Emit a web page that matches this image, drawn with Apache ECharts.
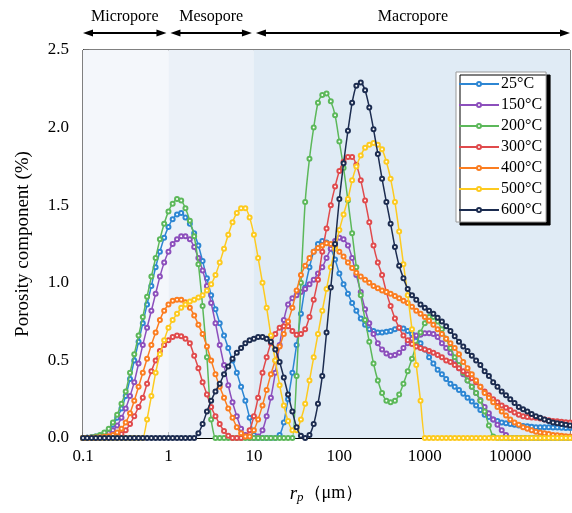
<!DOCTYPE html>
<html>
<head>
<meta charset="utf-8">
<script src="https://cdn.jsdelivr.net/npm/echarts@6/dist/echarts.min.js"></script>
<style>html,body{margin:0;padding:0;background:#fff;}#c{width:572px;height:513px;}</style>
</head>
<body>
<div id="c"></div>
<script>
// ---- data ----
const rp = [0.1, 0.112, 0.126, 0.141, 0.158, 0.178, 0.2, 0.224, 0.251, 0.282,
  0.316, 0.355, 0.398, 0.447, 0.501, 0.562, 0.631, 0.708, 0.794, 0.891,
  1, 1.12, 1.26, 1.41, 1.58, 1.78, 2, 2.24, 2.51, 2.82,
  3.16, 3.55, 3.98, 4.47, 5.01, 5.62, 6.31, 7.08, 7.94, 8.91,
  10, 11.2, 12.6, 14.1, 15.8, 17.8, 20, 22.4, 25.1, 28.2,
  31.6, 35.5, 39.8, 44.7, 50.1, 56.2, 63.1, 70.8, 79.4, 89.1,
  100, 112, 126, 141, 158, 178, 200, 224, 251, 282,
  316, 355, 398, 447, 501, 562, 631, 708, 794, 891,
  1000, 1122, 1259, 1413, 1585, 1778, 1995, 2239, 2512, 2818,
  3162, 3548, 3981, 4467, 5012, 5623, 6310, 7079, 7943, 8913,
  10000, 11220, 12589, 14125, 15849, 17783, 19953, 22387, 25119, 28184,
  31623, 35481, 39811, 44668, 50000];

const seriesNames = ['25°C', '150°C', '200°C', '300°C', '400°C', '500°C', '600°C'];

const v25 = [0, 0.002, 0.005, 0.01, 0.015, 0.03, 0.05, 0.085, 0.13, 0.19,
  0.27, 0.38, 0.5, 0.62, 0.74, 0.86, 0.98, 1.1, 1.2, 1.29,
  1.36, 1.41, 1.44, 1.45, 1.42, 1.38, 1.32, 1.24, 1.14, 1.03,
  0.92, 0.83, 0.74, 0.66, 0.58, 0.5, 0.42, 0.33, 0.24, 0.13,
  0.02, 0, 0, 0, 0, 0, 0.02, 0.1, 0.25, 0.42,
  0.6, 0.8, 0.97, 1.1, 1.2, 1.25, 1.27, 1.26, 1.22, 1.15,
  1.06, 0.99, 0.93, 0.87, 0.82, 0.77, 0.73, 0.7, 0.69, 0.68,
  0.68, 0.685, 0.69, 0.7, 0.71, 0.705, 0.69, 0.67, 0.65, 0.61,
  0.57, 0.52, 0.48, 0.44, 0.41, 0.38, 0.35, 0.33, 0.31, 0.285,
  0.26, 0.235, 0.21, 0.18, 0.15, 0.135, 0.12, 0.11, 0.1, 0.095,
  0.09, 0.085, 0.08, 0.078, 0.075, 0.072, 0.07, 0.07, 0.07, 0.069,
  0.068, 0.067, 0.066, 0.065, 0.065];

const v150 = [0, 0.001, 0.003, 0.006, 0.01, 0.02, 0.03, 0.05, 0.08, 0.13,
  0.19, 0.27, 0.36, 0.48, 0.6, 0.71, 0.82, 0.93, 1.04, 1.13,
  1.2, 1.25, 1.28, 1.3, 1.3, 1.28, 1.23, 1.16, 1.08, 0.98,
  0.87, 0.74, 0.6, 0.47, 0.34, 0.23, 0.14, 0.06, 0.02, 0,
  0, 0.01, 0.05, 0.14, 0.26, 0.42, 0.6, 0.76, 0.86, 0.9,
  0.92, 0.94, 0.96, 0.99, 1.02, 1.06, 1.1, 1.16, 1.22, 1.27,
  1.29, 1.28, 1.24, 1.16, 1.05, 0.94, 0.83, 0.74, 0.67, 0.61,
  0.57, 0.545, 0.53, 0.535, 0.55, 0.58, 0.61, 0.64, 0.66, 0.665,
  0.675, 0.675, 0.67, 0.65, 0.61, 0.58, 0.55, 0.5, 0.45, 0.41,
  0.37, 0.33, 0.29, 0.245, 0.2, 0.16, 0.12, 0.085, 0.05, 0.02,
  0, 0, 0, 0, 0, 0, 0, 0, 0, 0,
  0, 0, 0, 0, 0];

const v200 = [0, 0.002, 0.005, 0.01, 0.02, 0.035, 0.06, 0.1, 0.15, 0.22,
  0.3, 0.42, 0.54, 0.66, 0.78, 0.91, 1.04, 1.16, 1.28, 1.38,
  1.46, 1.51, 1.54, 1.53, 1.48, 1.4, 1.3, 1.12, 0.85, 0.52,
  0.12, 0, 0, 0, 0, 0, 0, 0, 0, 0,
  0, 0, 0, 0, 0, 0, 0, 0, 0, 0,
  0.4, 1.0, 1.52, 1.8, 2.0, 2.16, 2.21, 2.22, 2.17, 2.08,
  1.91, 1.74, 1.53, 1.32, 1.1, 0.92, 0.76, 0.62, 0.48, 0.37,
  0.29, 0.24, 0.23, 0.24, 0.28, 0.35, 0.43, 0.51, 0.6, 0.68,
  0.74, 0.78, 0.78, 0.75, 0.7, 0.64, 0.58, 0.52, 0.47, 0.42,
  0.37, 0.33, 0.29, 0.24, 0.17, 0.08, 0.01, 0, 0, 0,
  0, 0, 0, 0, 0, 0, 0, 0, 0, 0,
  0, 0, 0, 0, 0];

const v300 = [0, 0, 0, 0, 0.001, 0.002, 0.003, 0.006, 0.01, 0.025,
  0.05, 0.09, 0.14, 0.2, 0.26, 0.35, 0.43, 0.5, 0.56, 0.6,
  0.63, 0.65, 0.66, 0.655, 0.64, 0.61, 0.53, 0.45, 0.36, 0.28,
  0.2, 0.14, 0.09, 0.045, 0.015, 0, 0, 0, 0.01, 0.05,
  0.14, 0.26, 0.42, 0.52, 0.61, 0.67, 0.71, 0.72, 0.72, 0.69,
  0.665, 0.67, 0.7, 0.78, 0.89, 1.02, 1.2, 1.35, 1.5, 1.62,
  1.72, 1.78, 1.81, 1.81, 1.76, 1.66, 1.53, 1.39, 1.24, 1.13,
  1.05, 0.94, 0.85, 0.77, 0.71, 0.66, 0.63, 0.605, 0.59, 0.58,
  0.57, 0.56, 0.55, 0.535, 0.52, 0.5, 0.49, 0.47, 0.45, 0.43,
  0.41, 0.385, 0.36, 0.33, 0.3, 0.275, 0.25, 0.23, 0.21, 0.195,
  0.18, 0.165, 0.15, 0.14, 0.135, 0.132, 0.13, 0.125, 0.12, 0.115,
  0.11, 0.108, 0.105, 0.102, 0.1];

const v400 = [0, 0, 0.002, 0.003, 0.005, 0.008, 0.012, 0.02, 0.035, 0.06,
  0.1, 0.16, 0.24, 0.33, 0.42, 0.51, 0.6, 0.68, 0.76, 0.82,
  0.86, 0.885, 0.89, 0.89, 0.875, 0.84, 0.79, 0.73, 0.67, 0.59,
  0.5, 0.41, 0.33, 0.26, 0.19, 0.13, 0.07, 0.03, 0.01, 0.01,
  0.05, 0.12, 0.21, 0.31, 0.41, 0.5, 0.59, 0.67, 0.75, 0.84,
  0.95, 1.05, 1.11, 1.16, 1.2, 1.225, 1.24, 1.255, 1.25, 1.23,
  1.2, 1.17, 1.13, 1.095, 1.065, 1.04, 1.02, 1.0, 0.98, 0.965,
  0.95, 0.94, 0.93, 0.915, 0.9, 0.885, 0.87, 0.845, 0.82, 0.8,
  0.78, 0.755, 0.73, 0.7, 0.67, 0.64, 0.61, 0.58, 0.54, 0.49,
  0.45, 0.41, 0.37, 0.33, 0.29, 0.26, 0.23, 0.2, 0.17, 0.145,
  0.12, 0.1, 0.085, 0.07, 0.06, 0.05, 0.04, 0.035, 0.03, 0.025,
  0.02, 0.017, 0.015, 0.012, 0.01];

const v500 = [0, 0, 0, 0, 0, 0, 0, 0, 0, 0,
  0, 0, 0, 0, 0, 0.12, 0.27, 0.42, 0.54, 0.63,
  0.71, 0.76, 0.8, 0.84, 0.86, 0.88, 0.89, 0.905, 0.92, 0.95,
  0.99, 1.05, 1.13, 1.22, 1.31, 1.39, 1.45, 1.48, 1.48, 1.42,
  1.31, 1.16, 1.0, 0.84, 0.66, 0.5, 0.34, 0.21, 0.11, 0.05,
  0.05, 0.12, 0.22, 0.37, 0.52, 0.67, 0.82, 0.96, 1.1, 1.22,
  1.34, 1.44, 1.54, 1.66, 1.75, 1.82, 1.87, 1.89, 1.9, 1.89,
  1.86, 1.78, 1.67, 1.52, 1.33, 1.12, 0.92, 0.7, 0.47, 0.24,
  0, 0, 0, 0, 0, 0, 0, 0, 0, 0,
  0, 0, 0, 0, 0, 0, 0, 0, 0, 0,
  0, 0, 0, 0, 0, 0, 0, 0, 0, 0,
  0, 0, 0, 0, 0];

const v600 = [0, 0, 0, 0, 0, 0, 0, 0, 0, 0,
  0, 0, 0, 0, 0, 0, 0, 0, 0, 0,
  0, 0, 0, 0, 0, 0, 0, 0.03, 0.09, 0.17,
  0.24, 0.3, 0.35, 0.41, 0.46, 0.51, 0.55, 0.58, 0.61, 0.63,
  0.64, 0.65, 0.65, 0.64, 0.62, 0.57, 0.49, 0.39, 0.28, 0.17,
  0.07, 0.015, 0, 0.02, 0.09, 0.22, 0.4, 0.68, 0.97, 1.25,
  1.54, 1.77, 1.98, 2.16, 2.27, 2.29, 2.24, 2.13, 1.99, 1.83,
  1.67, 1.52, 1.38, 1.23, 1.11, 1.03, 0.96, 0.92, 0.89, 0.86,
  0.84, 0.82, 0.8, 0.775, 0.75, 0.72, 0.69, 0.655, 0.62, 0.59,
  0.56, 0.53, 0.5, 0.47, 0.43, 0.4, 0.36, 0.33, 0.3, 0.275,
  0.25, 0.225, 0.2, 0.185, 0.17, 0.155, 0.14, 0.13, 0.12, 0.11,
  0.1, 0.095, 0.09, 0.085, 0.08];

const seriesValues = [v25, v150, v200, v300, v400, v500, v600];
const seriesColors = ['#2d86d3', '#8c4fbc', '#5cb85a', '#e04a4c', '#fb7d20', '#fdca1f', '#1c2c50'];

const majorTicks = [0.1, 1, 10, 100, 1000, 10000];
const minorTicks = [0.2,0.3,0.4,0.5,0.6,0.7,0.8,0.9, 2,3,4,5,6,7,8,9, 20,30,40,50,60,70,80,90,
  200,300,400,500,600,700,800,900, 2000,3000,4000,5000,6000,7000,8000,9000, 20000,30000,40000];

const regions = [
  {name: 'Micropore', from: 0.1, to: 1, color: '#f4f7fb'},
  {name: 'Mesopore', from: 1, to: 10, color: '#ebf1f8'},
  {name: 'Macropore', from: 10, to: 50000, color: '#e0ebf5'}
];

// ---- chart ----
const FONT = "'Liberation Serif', 'Times New Roman', serif";
const chart = echarts.init(document.getElementById('c'), null, {renderer: 'canvas'});

const series = seriesNames.map((name, i) => ({
  name: name,
  type: 'line',
  xAxisIndex: 0,
  data: rp.map((x, j) => [x, seriesValues[i][j]]),
  smooth: 0.2,
  symbol: 'emptyCircle',
  symbolSize: 4,
  showSymbol: true,
  color: seriesColors[i],
  lineStyle: {width: 1.5, color: seriesColors[i]},
  itemStyle: {color: seriesColors[i], borderColor: seriesColors[i], borderWidth: 1.2},
  z: 3 + i,
  animation: false
}));

series.unshift({
  name: 'bands',
  type: 'line',
  data: [],
  silent: true,
  z: 1,
  markArea: {
    silent: true,
    itemStyle: {opacity: 1},
    data: regions.map(r => [{xAxis: r.from, itemStyle: {color: r.color}}, {xAxis: r.to}])
  }
});

const option = {
  animation: false,
  backgroundColor: '#fff',
  grid: {left: 83, right: 2, top: 50, bottom: 75, show: true, borderColor: '#000', borderWidth: 1, backgroundColor: 'transparent'},
  legend: {
    data: seriesNames,
    left: 456, top: 72,
    orient: 'vertical',
    padding: [4, 4, 4, 2],
    itemWidth: 40, itemHeight: 5, itemGap: 5,
    backgroundColor: '#fff',
    borderColor: '#999', borderWidth: 1,
    shadowColor: '#000', shadowBlur: 0, shadowOffsetX: 4, shadowOffsetY: 3,
    lineStyle: {width: 2},
    textStyle: {fontFamily: FONT, fontSize: 16, color: '#000', lineHeight: 16, padding: [0, 0, 0, -3]}
  },
  xAxis: [{
    type: 'log', logBase: 10, min: 0.1, max: 50000,
    position: 'bottom',
    axisLine: {show: true, lineStyle: {color: '#000', width: 1}},
    axisTick: {show: true, inside: true, length: 6, customValues: majorTicks, lineStyle: {color: '#000', width: 1.2}},
    axisLabel: {customValues: majorTicks, color: '#000', fontFamily: FONT, fontSize: 17, margin: 10,
      formatter: v => String(v)},
    splitLine: {show: false},
    name: '{i|r}{s|p}{n|（μm）}',
    nameLocation: 'middle',
    nameGap: 45,
    nameTextStyle: {
      rich: {
        i: {fontFamily: FONT, fontStyle: 'italic', fontSize: 19, color: '#000'},
        s: {fontFamily: FONT, fontStyle: 'italic', fontSize: 13, color: '#000', verticalAlign: 'bottom', padding: [8, 0, 0, 0]},
        n: {fontFamily: FONT, fontSize: 18, color: '#000'}
      }
    }
  }, {
    type: 'log', logBase: 10, min: 0.1, max: 50000,
    position: 'bottom',
    axisLine: {show: false},
    axisTick: {show: true, inside: true, length: 3, customValues: minorTicks, lineStyle: {color: '#000', width: 1}},
    axisLabel: {show: false},
    splitLine: {show: false}
  }],
  yAxis: {
    type: 'value', min: 0, max: 2.5, interval: 0.5,
    axisLine: {show: true, lineStyle: {color: '#000', width: 1}},
    axisTick: {show: true, inside: true, length: 6, lineStyle: {color: '#000', width: 1.2}},
    minorTick: {show: true, splitNumber: 2, length: 3, lineStyle: {color: '#000', width: 1}},
    axisLabel: {color: '#000', fontFamily: FONT, fontSize: 17, margin: 14, formatter: v => v.toFixed(1)},
    splitLine: {show: false},
    name: 'Porosity component (%)',
    nameLocation: 'middle',
    nameGap: 50,
    nameTextStyle: {fontFamily: FONT, fontSize: 19, color: '#000'}
  },
  series: series
};
chart.setOption(option);

// ---- top region annotations (arrows placed from axis scale) ----
function px(v) { return chart.convertToPixel({xAxisIndex: 0}, v); }
const arrowY = 33, textY = 17;
const g = [];
regions.forEach((r, idx) => {
  let x1 = px(r.from) + (idx === 0 ? 0 : 2);
  let x2 = px(r.to) - (idx === regions.length - 1 ? 0 : 2);
  const ah = 10, aw = 3.5;
  g.push({type: 'line', shape: {x1: x1 + ah - 1, y1: arrowY, x2: x2 - ah + 1, y2: arrowY}, style: {stroke: '#000', lineWidth: 2}});
  g.push({type: 'polygon', shape: {points: [[x1, arrowY], [x1 + ah, arrowY - aw], [x1 + ah, arrowY + aw]]}, style: {fill: '#000'}});
  g.push({type: 'polygon', shape: {points: [[x2, arrowY], [x2 - ah, arrowY - aw], [x2 - ah, arrowY + aw]]}, style: {fill: '#000'}});
  g.push({type: 'text', x: (x1 + x2) / 2, y: textY, style: {text: r.name, fontFamily: FONT, fontSize: 16, fill: '#000', align: 'center', verticalAlign: 'middle'}});
});
chart.setOption({graphic: g});
</script>
</body>
</html>
